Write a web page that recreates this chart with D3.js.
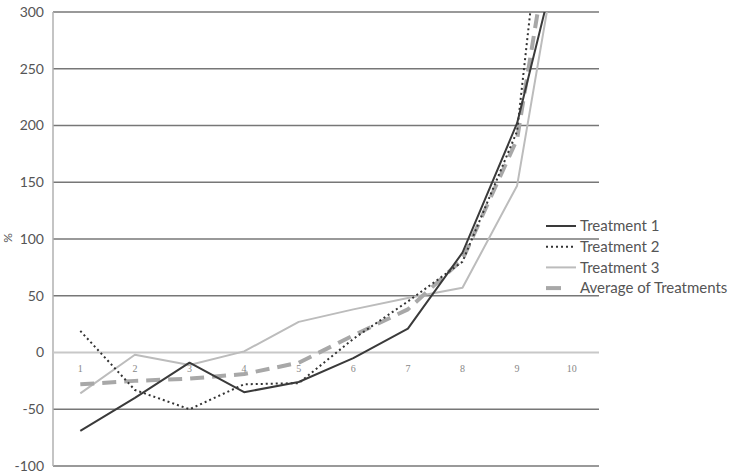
<!DOCTYPE html>
<html>
<head>
<meta charset="utf-8">
<script src="https://cdn.jsdelivr.net/npm/d3@7"></script>
<style>
  body { margin: 0; background: #fff; }
  svg { display: block; }
</style>
</head>
<body>
<svg id="chart" width="734" height="474"></svg>
<script>
// values
const categories = [1, 2, 3, 4, 5, 6, 7, 8, 9, 10];
const treatment1 = [-69, -40, -9, -35, -26, -5, 21, 88, 202, 397];
const treatment2 = [19, -33, -50, -28, -27, 12, 45, 80, 195, 630];
const treatment3 = [-36, -2, -11, 1, 27, 38, 48, 57, 147, 428];
const average = [-28, -25, -23, -19, -9, 15, 38, 82, 188, 485];
const yTicks = [-100, -50, 0, 50, 100, 150, 200, 250, 300];

const series = [
  { name: "Treatment 3", values: treatment3, color: "#bcbcbc", width: 2, dash: null },
  { name: "Average of Treatments", values: average, color: "#a8a8a8", width: 4, dash: "14,8" },
  { name: "Treatment 2", values: treatment2, color: "#333", width: 2, dash: "2,3" },
  { name: "Treatment 1", values: treatment1, color: "#3a3a3a", width: 2, dash: null }
];
const legendOrder = ["Treatment 1", "Treatment 2", "Treatment 3", "Average of Treatments"];

const plotLeft = 53, plotRight = 599, plotTop = 12, plotBottom = 466;
const svg = d3.select("#chart");

const x = d3.scalePoint().domain(categories).range([plotLeft, plotRight]).padding(0.5);
const y = d3.scaleLinear().domain([-100, 300]).range([plotBottom, plotTop]);

// clip for the lines running off the top
svg.append("defs").append("clipPath").attr("id", "plot")
  .append("rect").attr("x", plotLeft).attr("y", plotTop)
  .attr("width", plotRight - plotLeft).attr("height", plotBottom - plotTop);

// gridlines
svg.append("g").selectAll("line")
  .data(yTicks.filter(d => d !== 0))
  .enter().append("line")
  .attr("x1", plotLeft).attr("x2", plotRight)
  .attr("y1", d => y(d)).attr("y2", d => y(d))
  .attr("stroke", "#777").attr("stroke-width", 1.5);

// left axis line
svg.append("line")
  .attr("x1", plotLeft).attr("x2", plotLeft).attr("y1", plotTop).attr("y2", plotBottom)
  .attr("stroke", "#b0b0b0").attr("stroke-width", 1.5);

// zero line (category axis)
svg.append("line")
  .attr("x1", plotLeft).attr("x2", plotRight).attr("y1", y(0)).attr("y2", y(0))
  .attr("stroke", "#c8c8c8").attr("stroke-width", 2);

// y tick labels
svg.append("g").selectAll("text")
  .data(yTicks)
  .enter().append("text")
  .attr("x", 44).attr("y", d => y(d)).attr("dy", "0.35em")
  .attr("text-anchor", "end")
  .style("font-family", "Lato, 'Open Sans', sans-serif").style("font-size", "14px")
  .attr("fill", "#555")
  .text(d => d);

// category labels just under zero line
svg.append("g").selectAll("text")
  .data(categories)
  .enter().append("text")
  .attr("x", d => x(d)).attr("y", y(0) + 19)
  .attr("text-anchor", "middle")
  .style("font-family", "'Liberation Serif', serif").style("font-size", "10px")
  .attr("fill", "#888")
  .text(d => d);

// axis title at far left
svg.append("text")
  .attr("transform", "translate(12,238) rotate(-90)")
  .attr("text-anchor", "middle")
  .style("font-family", "Lato, sans-serif").style("font-size", "12px")
  .attr("fill", "#555")
  .text("%");

const line = d3.line()
  .x((d, i) => x(categories[i]))
  .y(d => y(d));

svg.append("g").attr("clip-path", "url(#plot)")
  .selectAll("path")
  .data(series)
  .enter().append("path")
  .attr("d", d => line(d.values))
  .attr("fill", "none")
  .attr("stroke", d => d.color)
  .attr("stroke-width", d => d.width)
  .attr("stroke-dasharray", d => d.dash)
  .attr("stroke-linejoin", "round");

// legend
const legend = svg.append("g").selectAll("g")
  .data(legendOrder.map(n => series.find(s => s.name === n)))
  .enter().append("g")
  .attr("transform", (d, i) => "translate(546," + (226 + i * 20.7) + ")");

legend.append("line")
  .attr("x1", 0)
  .attr("x2", d => d.name === "Average of Treatments" ? 15 : 30)
  .attr("y1", 0).attr("y2", 0)
  .attr("stroke", d => d.color)
  .attr("stroke-width", d => d.width)
  .attr("stroke-dasharray", d => d.name === "Average of Treatments" ? null : d.dash);

legend.append("text")
  .attr("x", 34).attr("dy", "0.35em")
  .style("font-family", "Lato, sans-serif").style("font-size", "15px")
  .attr("fill", "#555")
  .text(d => d.name);
</script>
</body>
</html>
